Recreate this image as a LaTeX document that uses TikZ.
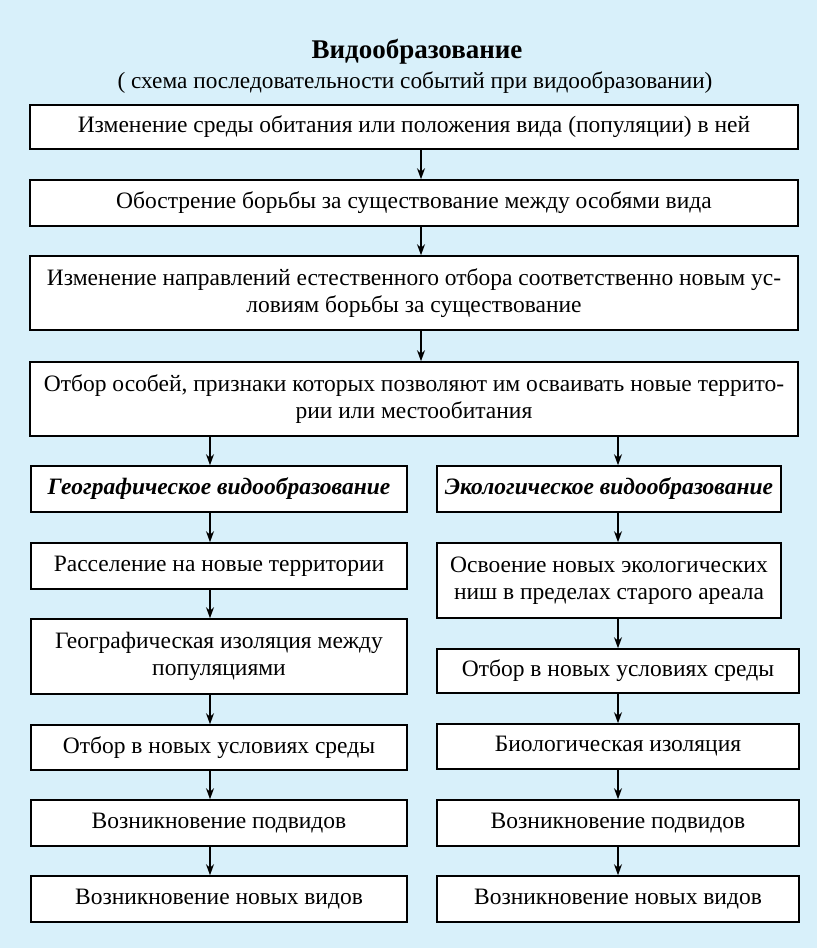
\documentclass[tikz,border=0pt]{standalone}
\usepackage{fontspec}
\setmainfont{Liberation Serif}
\usetikzlibrary{arrows.meta}
\definecolor{fon}{RGB}{216,240,250}

\begin{document}
\begin{tikzpicture}[x=1pt,y=-1pt] %% schema
	\tikzstyle{blok}=[draw,fill=white,line width=1.6pt,align=center,inner sep=0pt,font=\fontsize{23.5}{27}\selectfont];
	\tikzstyle{zag}=[blok,font=\bfseries\itshape\fontsize{23.5}{27}\selectfont];
	\tikzstyle{strel}=[line width=1.4pt,-{Stealth[length=11pt,width=8pt]}];
	\fill[fon] (0,0) rectangle (817,948);
	\useasboundingbox (0,0) rectangle (817,948);
	%% title
	\node[font=\bfseries\fontsize{27}{30}\selectfont] (title) at (417,52) {Видообразование};
	\node[font=\fontsize{23.3}{27}\selectfont] (sub) at (415,83) {( схема последовательности событий при видообразовании)};
	%% main chain
	\node[blok,minimum width=768pt,minimum height=44pt] (b1) at (414,127) {Изменение среды обитания или положения вида (популяции) в ней};
	\node[blok,minimum width=768pt,minimum height=46pt] (b2) at (414,203) {Обострение борьбы за существование между особями вида};
	\node[blok,minimum width=768pt,minimum height=74pt] (b3) at (414,293) {Изменение направлений естественного отбора соответственно новым ус-\\ловиям борьбы за существование};
	\node[blok,minimum width=768pt,minimum height=74pt] (b4) at (414,399) {Отбор особей, признаки которых позволяют им осваивать новые террито-\\рии или местообитания};
	%% left column
	\node[zag,minimum width=376pt,minimum height=46pt] (g0) at (219,489) {Географическое видообразование};
	\node[blok,minimum width=376pt,minimum height=46pt] (g1) at (219,566) {Расселение на новые территории};
	\node[blok,minimum width=376pt,minimum height=75pt] (g2) at (219,656.5) {Географическая изоляция между\\популяциями};
	\node[blok,minimum width=376pt,minimum height=45pt] (g3) at (219,747.5) {Отбор в новых условиях среды};
	\node[blok,minimum width=376pt,minimum height=46pt] (g4) at (219,823) {Возникновение подвидов};
	\node[blok,minimum width=376pt,minimum height=46pt] (g5) at (219,899) {Возникновение новых видов};
	%% right column
	\node[zag,minimum width=344pt,minimum height=46pt] (e0) at (609,489) {Экологическое видообразование};
	\node[blok,minimum width=344pt,minimum height=75pt] (e1) at (609,580.5) {Освоение новых экологических\\ниш в пределах старого ареала};
	\node[blok,minimum width=362pt,minimum height=44pt] (e2) at (618,671) {Отбор в новых условиях среды};
	\node[blok,minimum width=362pt,minimum height=45pt] (e3) at (618,746.5) {Биологическая изоляция};
	\node[blok,minimum width=362pt,minimum height=46pt] (e4) at (618,823) {Возникновение подвидов};
	\node[blok,minimum width=362pt,minimum height=46pt] (e5) at (618,899) {Возникновение новых видов};
	%% arrows
	\coordinate (xm) at (421,0);
	\coordinate (xl) at (210,0);
	\coordinate (xr) at (618,0);
	\foreach \a/\b in {b1/b2,b2/b3,b3/b4}
		\draw[strel] (\a.south -| xm) -- (\b.north -| xm);
	\draw[strel] (b4.south -| xl) -- (g0.north -| xl);
	\draw[strel] (b4.south -| xr) -- (e0.north -| xr);
	\foreach \a/\b in {g0/g1,g1/g2,g2/g3,g3/g4,g4/g5}
		\draw[strel] (\a.south -| xl) -- (\b.north -| xl);
	\foreach \a/\b in {e0/e1,e1/e2,e2/e3,e3/e4,e4/e5}
		\draw[strel] (\a.south -| xr) -- (\b.north -| xr);
\end{tikzpicture}
\end{document}
